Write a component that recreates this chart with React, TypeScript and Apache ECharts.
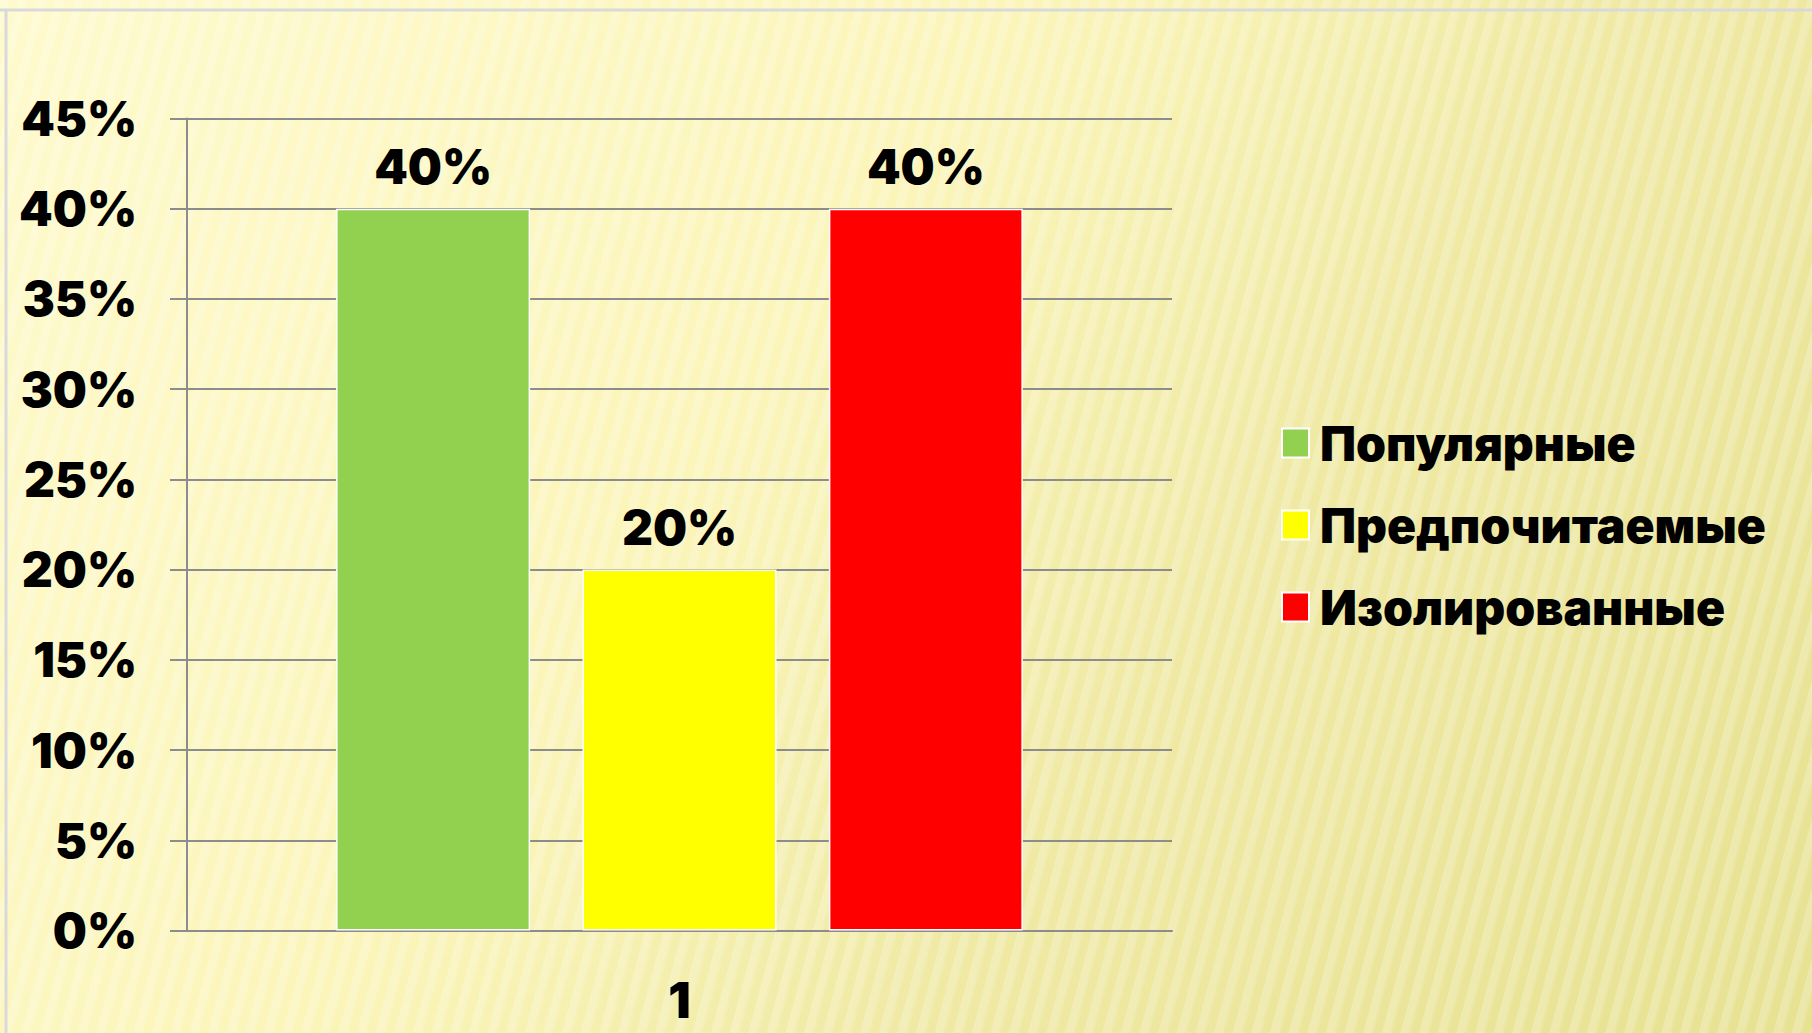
import React, { useEffect, useRef } from "react";
import * as echarts from "echarts";

const categories = ["1"];
const seriesNames = ["Популярные", "Предпочитаемые", "Изолированные"];
const seriesValues = [[0.4], [0.2], [0.4]];
const seriesColors = ["#92d050", "#ffff00", "#ff0000"];
const yTicks = { min: 0, max: 0.45, interval: 0.05 };

const FONT = "Inter";

export default function App() {
  const ref = useRef<HTMLDivElement>(null);
  useEffect(() => {
    document.body.style.margin = "0";
    if (!ref.current) return;
    const chart = echarts.init(ref.current, null, { renderer: "svg" });
    const pct = (v: number) => Math.round(v * 100) + "%";
    chart.setOption({
      animation: false,
      backgroundColor: "transparent",
      grid: { left: 187, top: 118.5, right: 640, bottom: 102.5, containLabel: false },
      legend: {
        orient: "vertical",
        left: 1276,
        top: 414,
        itemWidth: 27,
        itemHeight: 29,
        itemGap: 34,
        icon: "rect",
        data: seriesNames,
        textStyle: { fontFamily: FONT, fontWeight: 900, fontSize: 48, color: "#000", padding: [0, 0, 0, 6] },
      },
      xAxis: {
        type: "category",
        data: categories,
        axisLine: { show: true, lineStyle: { color: "#8c8c8c", width: 2 } },
        axisTick: { show: false },
        axisLabel: { fontFamily: FONT, fontWeight: 900, fontSize: 50, color: "#000", margin: 44 },
      },
      yAxis: {
        type: "value",
        min: yTicks.min,
        max: yTicks.max,
        interval: yTicks.interval,
        axisLine: { show: true, lineStyle: { color: "#8c8c8c", width: 2 } },
        axisTick: { show: true, length: 17, lineStyle: { color: "#8c8c8c", width: 2 } },
        splitLine: { show: true, lineStyle: { color: "#8c8c8c", width: 2 } },
        axisLabel: {
          formatter: pct,
          fontFamily: FONT,
          fontWeight: 900,
          fontSize: 48,
          color: "#000",
          margin: 50,
        },
      },
      series: seriesNames.map((name, i) => ({
        name,
        type: "bar",
        data: seriesValues[i],
        barWidth: 194,
        barGap: "27%",
        itemStyle: { color: seriesColors[i], borderColor: "#ffffff", borderWidth: 1.5 },
        label: {
          show: true,
          position: "top",
          distance: 18,
          formatter: (p: any) => pct(p.value),
          fontFamily: FONT,
          fontWeight: 900,
          fontSize: 48,
          color: "#000",
        },
      })),
      graphic: [
        { type: "line", shape: { x1: 0, y1: 10, x2: 1812, y2: 10 }, style: { stroke: "#d9d9d9", lineWidth: 3 } },
        { type: "line", shape: { x1: 6, y1: 10, x2: 6, y2: 1033 }, style: { stroke: "#d9d9d9", lineWidth: 3 } },
      ],
    });
    return () => chart.dispose();
  }, []);
  return (
    <div
      style={{
        width: 1812,
        height: 1033,
        background:
          "repeating-linear-gradient(105deg, rgba(255,255,255,0.22) 0px, rgba(255,255,255,0.22) 7px, rgba(255,255,255,0) 11px, rgba(255,255,255,0) 18px), linear-gradient(125deg, #fefacd 0%, #fbf5ba 40%, #efe9a4 65%, #e7e192 100%)",
      }}
    >
      <div ref={ref} style={{ width: 1812, height: 1033 }} />
    </div>
  );
}
